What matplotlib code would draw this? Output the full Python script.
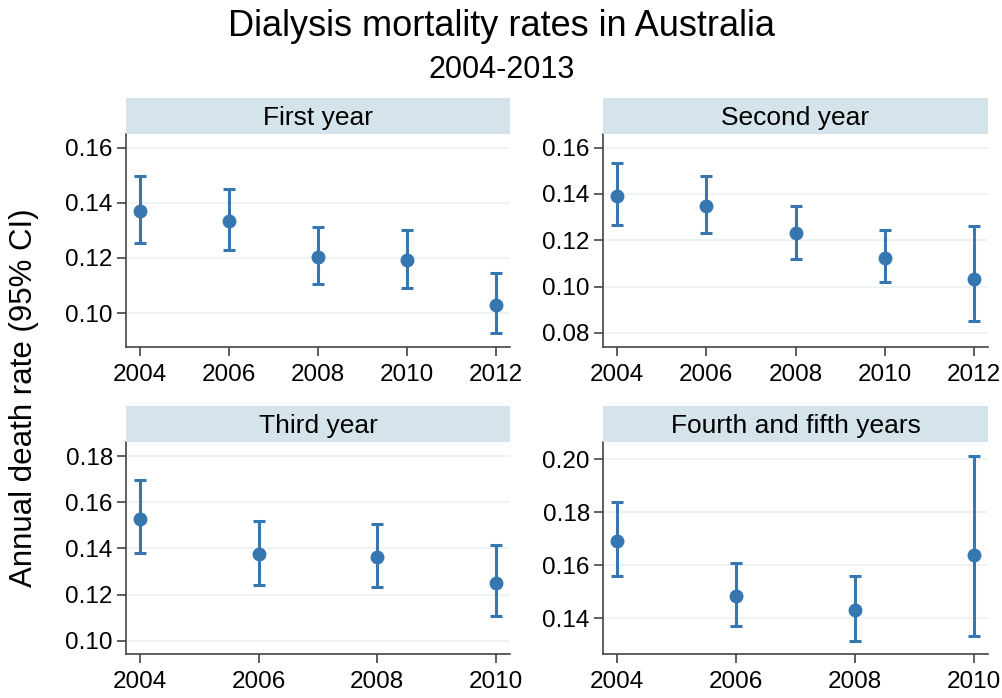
import matplotlib
matplotlib.use("Agg")
import matplotlib.pyplot as plt

plt.rcParams['font.family'] = ['Liberation Sans', 'DejaVu Sans']

# Daten
panel_titles = ["First year", "Second year", "Third year", "Fourth and fifth years"]

years_1 = [2004, 2006, 2008, 2010, 2012]
rate_1 = [0.1370, 0.1334, 0.1205, 0.1192, 0.1031]
low_1 = [0.1254, 0.1227, 0.1105, 0.1090, 0.0928]
high_1 = [0.1497, 0.1448, 0.1313, 0.1301, 0.1146]

years_2 = [2004, 2006, 2008, 2010, 2012]
rate_2 = [0.1391, 0.1349, 0.1230, 0.1124, 0.1033]
low_2 = [0.1266, 0.1232, 0.1117, 0.1018, 0.0850]
high_2 = [0.1534, 0.1479, 0.1349, 0.1244, 0.1261]

years_3 = [2004, 2006, 2008, 2010]
rate_3 = [0.1530, 0.1376, 0.1362, 0.1249]
low_3 = [0.1381, 0.1243, 0.1233, 0.1106]
high_3 = [0.1695, 0.1521, 0.1504, 0.1414]

years_4 = [2004, 2006, 2008, 2010]
rate_4 = [0.1693, 0.1486, 0.1433, 0.1640]
low_4 = [0.1559, 0.1372, 0.1316, 0.1333]
high_4 = [0.1837, 0.1608, 0.1558, 0.2011]

yticks_1 = [0.10, 0.12, 0.14, 0.16]
yticks_2 = [0.08, 0.10, 0.12, 0.14, 0.16]
yticks_3 = [0.10, 0.12, 0.14, 0.16, 0.18]
yticks_4 = [0.14, 0.16, 0.18, 0.20]

W, H = 1003, 698
fig = plt.figure(figsize=(W / 100, H / 100), dpi=100)

blue = '#3677b0'
strip_col = '#d5e4ea'
grid_col = '#eaf2f3'
axis_col = '#444444'

# Pixel-Layout: (links, oben, rechts, unten)
boxes = [(126, 134, 510, 347), (603, 134, 988, 347),
         (126, 442, 510, 654), (603, 442, 988, 654)]
strip_h = 36

panels = [
    (years_1, rate_1, low_1, high_1, yticks_1, (0.0877, 0.1649), (2003.69, 2012.31)),
    (years_2, rate_2, low_2, high_2, yticks_2, (0.0739, 0.1659), (2003.69, 2012.31)),
    (years_3, rate_3, low_3, high_3, yticks_3, (0.0942, 0.1862), (2003.76, 2010.24)),
    (years_4, rate_4, low_4, high_4, yticks_4, (0.1266, 0.2064), (2003.76, 2010.24)),
]

for (l, t, r, b), title, (yrs, rate, lo, hi, yt, ylim, xlim) in zip(boxes, panel_titles, panels):
    ax = fig.add_axes([l / W, 1 - b / H, (r - l) / W, (b - t) / H])
    err = [[v - a for v, a in zip(rate, lo)], [c - v for v, c in zip(rate, hi)]]
    ax.errorbar(yrs, rate, yerr=err, fmt='o', color=blue, ms=9,
                elinewidth=2.2, capsize=4, capthick=2.2, zorder=3)
    ax.set_xlim(*xlim)
    ax.set_ylim(*ylim)
    ax.set_xticks(yrs)
    ax.set_yticks(yt)
    ax.set_yticklabels([f'{v:.2f}' for v in yt])
    ax.grid(axis='y', color=grid_col, lw=1.2)
    ax.set_axisbelow(True)
    for s in ['top', 'right']:
        ax.spines[s].set_visible(False)
    for s in ['left', 'bottom']:
        ax.spines[s].set_color(axis_col)
        ax.spines[s].set_linewidth(1.2)
    ax.tick_params(labelsize=17.5, length=6.5, width=1.2, color=axis_col)
    ax.tick_params(axis='x', pad=6)
    ax.tick_params(axis='y', pad=3)

    # Titelstreifen
    sax = fig.add_axes([l / W, 1 - t / H, (r - l) / W, strip_h / H])
    sax.set_facecolor(strip_col)
    sax.set_xticks([])
    sax.set_yticks([])
    for s in sax.spines.values():
        s.set_visible(False)
    sax.text(0.5, 0.45, title, ha='center', va='center', fontsize=19,
             transform=sax.transAxes)

fig.text(0.5, 1 - 27 / H, 'Dialysis mortality rates in Australia',
         ha='center', va='center', fontsize=26)
fig.text(0.5, 1 - 70 / H, '2004-2013', ha='center', va='center', fontsize=22)
fig.text(24 / W, 1 - 398 / H, 'Annual death rate (95% CI)', rotation=90,
         ha='center', va='center', fontsize=22.5)

fig.savefig('out.png', dpi=100)
